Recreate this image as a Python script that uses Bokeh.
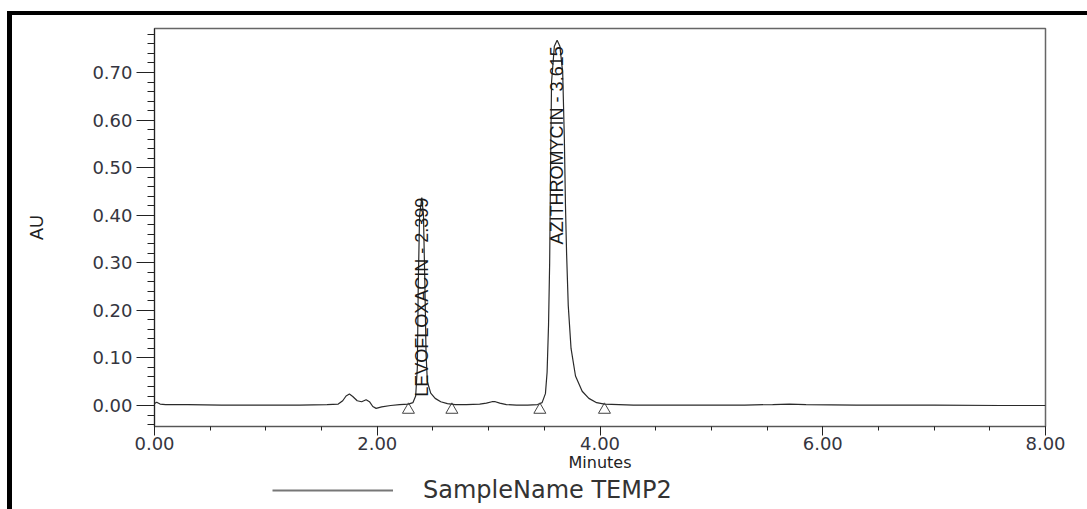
import numpy as np
from bokeh.plotting import figure
from bokeh.layouts import column
from bokeh.models import (Range1d, FixedTicker, Legend, LegendItem,
                          NumeralTickFormatter, ColumnDataSource)
from bokeh.core.properties import value
from bokeh.embed import file_html
from bokeh.resources import INLINE

# ---------------- data ----------------
time_min = [0.00, 0.02, 0.05, 0.10, 0.30, 0.60, 1.00, 1.30, 1.55, 1.65, 1.69, 1.72,
            1.75, 1.78, 1.82, 1.86, 1.90, 1.93, 1.96, 1.99, 2.04, 2.12, 2.20, 2.28,
            2.32, 2.345, 2.36, 2.368, 2.38, 2.40, 2.415, 2.428, 2.438, 2.45, 2.48,
            2.52, 2.57, 2.63, 2.70, 2.80, 2.92, 2.98, 3.03, 3.06, 3.10, 3.16, 3.25,
            3.35, 3.44, 3.48, 3.51, 3.525, 3.538, 3.548, 3.556, 3.565, 3.59, 3.615,
            3.64, 3.665, 3.68, 3.69, 3.70, 3.715, 3.74, 3.78, 3.84, 3.90, 3.97, 4.04,
            4.30, 4.80, 5.30, 5.55, 5.70, 5.85, 6.30, 7.00, 7.60, 8.00]
absorbance_au = [0.004, 0.007, 0.003, 0.002, 0.002, 0.001, 0.001, 0.001, 0.002, 0.003,
                 0.010, 0.020, 0.024, 0.019, 0.010, 0.008, 0.012, 0.008, -0.002, -0.006,
                 -0.003, 0.000, 0.002, 0.003, 0.006, 0.020, 0.080, 0.250, 0.400, 0.437,
                 0.400, 0.250, 0.110, 0.050, 0.026, 0.015, 0.008, 0.004, 0.002, 0.002,
                 0.003, 0.005, 0.008, 0.008, 0.005, 0.002, 0.001, 0.001, 0.002, 0.006,
                 0.025, 0.070, 0.170, 0.300, 0.500, 0.680, 0.755, 0.768, 0.755, 0.700,
                 0.560, 0.420, 0.320, 0.210, 0.120, 0.062, 0.030, 0.015, 0.006, 0.003,
                 0.001, 0.001, 0.001, 0.002, 0.003, 0.002, 0.001, 0.001, 0.000, 0.000]

peak_names = ["LEVOFLOXACIN", "AZITHROMYCIN"]
peak_rt = [2.399, 3.615]
peak_height = [0.437, 0.755]

event_times = [2.28, 2.67, 3.46, 4.04]
event_au = [-0.009, -0.009, -0.009, -0.009]

x_ticks = [0.0, 2.0, 4.0, 6.0, 8.0]
y_ticks = [0.0, 0.1, 0.2, 0.3, 0.4, 0.5, 0.6, 0.7]
sample_name = "SampleName TEMP2"
x_title = "Minutes"
y_title = "AU"

# ---------------- layout ----------------
OFF_X, OFF_Y = 12, 15
W = 1087 - OFF_X
H_LEG = 33
H_MAIN = 509 - OFF_Y - H_LEG
FRAME_BOTTOM = 426 - OFF_Y
FRAME_LEFT = 154 - OFF_X

p = figure(width=W, height=H_MAIN, output_backend="svg", toolbar_location=None,
           x_range=Range1d(0, 8), y_range=Range1d(-0.0441, 0.7925),
           min_border_left=FRAME_LEFT, min_border_right=1087 - 1045,
           min_border_top=28 - OFF_Y, min_border_bottom=H_MAIN - FRAME_BOTTOM)

p.xgrid.visible = False
p.ygrid.visible = False
p.outline_line_color = "#666666"
p.outline_line_width = 1.5
p.background_fill_color = "white"
p.border_fill_color = "white"

tick_font = "DejaVu Sans"
p.xaxis.ticker = FixedTicker(ticks=x_ticks,
                             minor_ticks=[i * 0.5 for i in range(17)])
p.yaxis.ticker = FixedTicker(ticks=y_ticks,
                             minor_ticks=[round(-0.04 + i * 0.02, 2) for i in range(42)])
for ax in (p.xaxis[0], p.yaxis[0]):
    ax.formatter = NumeralTickFormatter(format="0.00")
    ax.major_label_text_font = tick_font
    ax.major_label_text_font_size = "18px"
    ax.major_label_text_color = "#353540"
    ax.major_tick_in = 0
    ax.minor_tick_in = 0
    ax.axis_line_color = "#222222"
    ax.major_tick_line_color = "#222222"
    ax.minor_tick_line_color = "#222222"
    ax.axis_label_text_font_style = "normal"
    ax.axis_label_text_color = "#222222"

p.yaxis.major_tick_out = 18
p.yaxis.minor_tick_out = 7
p.yaxis.major_label_standoff = 4
p.yaxis.axis_label = y_title
p.yaxis.axis_label_text_font = "Liberation Sans"
p.yaxis.axis_label_text_font_size = "18px"
p.yaxis.axis_label_standoff = 42

p.xaxis.major_tick_out = 9
p.xaxis.minor_tick_out = 4
p.xaxis.major_label_standoff = 1
p.xaxis.axis_label = x_title
p.xaxis.axis_label_text_font = tick_font
p.xaxis.axis_label_text_font_size = "16px"
p.xaxis.axis_label_standoff = 0
p.xaxis.axis_line_color = "#555555"

# ---------------- marks ----------------
trace = p.line(time_min, absorbance_au, line_color="#2a2a2a", line_width=1.2)

p.scatter(event_times, event_au, marker="triangle", size=12,
          fill_color=None, line_color="#444444", line_width=1)

labels = ColumnDataSource(dict(
    x=peak_rt, y=peak_height,
    text=[f"{n} - {rt:.3f}" for n, rt in zip(peak_names, peak_rt)]))
p.text(x="x", y="y", text="text", source=labels, angle=np.pi / 2,
       text_align="right", text_baseline="middle",
       text_font=value("Liberation Sans"), text_font_size="18px",
       text_color="#1a1a1a")

# ---------------- legend strip (frame is aligned with the plot above) ----------------
p2 = figure(width=W, height=H_LEG, output_backend="svg", toolbar_location=None,
            x_axis_type=None, y_axis_type=None, min_border=0,
            min_border_left=FRAME_LEFT, min_border_right=1087 - 1045,
            x_range=Range1d(0, 8), y_range=Range1d(5, 6))
p2.grid.visible = False
p2.outline_line_color = None
p2.border_fill_color = "white"
# same trace, out of this strip's view: only its legend sample shows
legend_r = p2.line(time_min, absorbance_au, line_color="#777777", line_width=2)
legend = Legend(items=[LegendItem(label=sample_name, renderers=[legend_r])],
                location=(272 - 154, 5), orientation="horizontal",
                glyph_width=121, glyph_height=20, label_standoff=30,
                label_text_font=tick_font, label_text_font_size="24px",
                label_text_color="#333333", border_line_color=None,
                background_fill_alpha=0, padding=0, margin=0)
p2.add_layout(legend, "center")

layout = column(p, p2, spacing=0)
layout.styles = {"margin-left": "7px", "margin-top": "11px",
                 "border-left": "5px solid black", "border-top": "4px solid black"}

open("out.html", "w").write(file_html(layout, INLINE))
